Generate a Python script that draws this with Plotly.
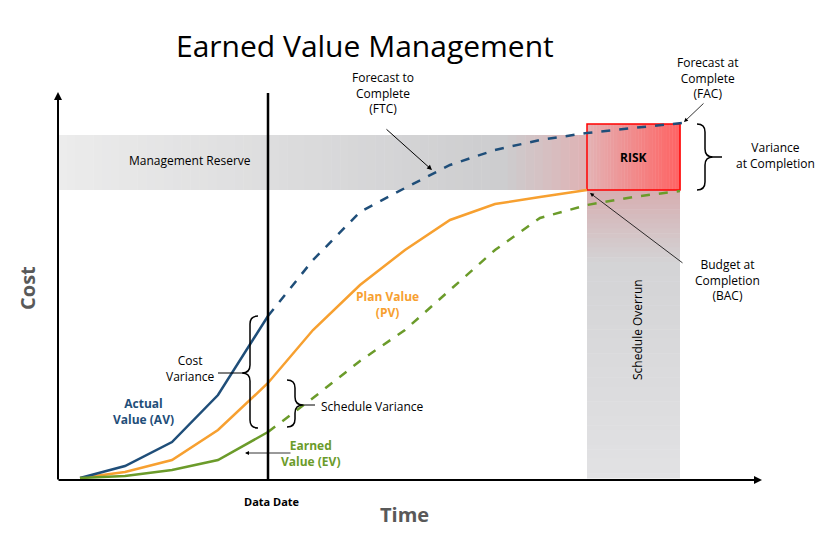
import plotly.graph_objects as go

# data (pixel-like units: x to the right, y downward)
t_actual = [80, 125, 172, 218, 268]
av_actual = [478, 466, 442, 395, 316]
t_ftc = [268, 313, 360, 405, 450, 495, 540, 587, 633, 682]
av_ftc = [316, 260, 212, 188, 165, 150, 140, 133, 128, 123]
t_pv = [80, 125, 172, 218, 268, 313, 360, 405, 450, 495, 540, 587]
pv = [478, 472, 460, 430, 383, 330, 285, 250, 220, 204, 197, 190]
t_ev = [80, 125, 172, 218, 268]
ev = [478, 476, 470, 460, 432]
t_evf = [268, 313, 360, 405, 450, 495, 540, 587, 633, 680]
evf = [432, 398, 361, 330, 290, 250, 218, 205, 197, 191]

BLUE, ORANGE, GREEN = "#1f4e79", "#f7a030", "#6b9b2a"
FONT = "Open Sans"

fig = go.Figure()
shapes = []

def lerp(c1, c2, f):
    return "rgb(%d,%d,%d)" % tuple(int(a + (b - a) * f) for a, b in zip(c1, c2))

N = 60
x0, x1 = 58, 587
for i in range(N):
    f = i / (N - 1)
    xa = x0 + (x1 - x0) * i / N
    xb = x0 + (x1 - x0) * (i + 1) / N + 0.5
    if f < 0.85:
        c = lerp((236, 236, 236), (205, 205, 207), f / 0.85)
    else:
        c = lerp((205, 205, 207), (222, 180, 182), (f - 0.85) / 0.15)
    shapes.append(dict(type="rect", x0=xa, x1=xb, y0=135, y1=190, fillcolor=c, line_width=0, layer="below"))
for i in range(N):
    f = i / (N - 1)
    ya = 190 + (478 - 190) * i / N
    yb = 190 + (478 - 190) * (i + 1) / N + 0.5
    if f < 0.25:
        c = lerp((215, 175, 178), (212, 212, 214), f / 0.25)
    else:
        c = lerp((212, 212, 214), (226, 226, 228), (f - 0.25) / 0.75)
    shapes.append(dict(type="rect", x0=587, x1=680, y0=ya, y1=yb, fillcolor=c, line_width=0, layer="below"))
for i in range(N):
    f = i / (N - 1)
    xa = 587 + 93 * i / N
    xb = 587 + 93 * (i + 1) / N + 0.5
    shapes.append(dict(type="rect", x0=xa, x1=xb, y0=124, y1=190,
                       fillcolor=lerp((228, 178, 180), (255, 100, 100), f), line_width=0, layer="below"))
shapes.append(dict(type="rect", x0=587, x1=680, y0=124, y1=190, line=dict(color="#ff0000", width=1.5), layer="below"))
shapes.append(dict(type="line", x0=268, x1=268, y0=93, y1=480, line=dict(color="black", width=2.5)))

def brace(xb, y1, y2, ym, d, w=8, r=8):
    p = (f"M {xb-d*w},{y1} Q {xb},{y1} {xb},{y1+r} L {xb},{ym-r} Q {xb},{ym} {xb+d*w},{ym} "
         f"Q {xb},{ym} {xb},{ym+r} L {xb},{y2-r} Q {xb},{y2} {xb-d*w},{y2}")
    return dict(type="path", path=p, line=dict(color="black", width=1.5))

shapes.append(brace(250, 316, 428, 373, -1))
shapes.append(brace(295, 380, 427, 405, 1))
shapes.append(brace(705, 124, 190, 157, 1))
shapes.append(dict(type="line", x0=218, x1=242, y0=373, y1=373, line=dict(color="black", width=1)))
shapes.append(dict(type="line", x0=303, x1=315, y0=405, y1=405, line=dict(color="black", width=1)))
shapes.append(dict(type="line", x0=713, x1=722, y0=157, y1=157, line=dict(color="black", width=1.5)))

fig.add_trace(go.Scatter(x=t_ftc, y=av_ftc, mode="lines", line=dict(color=BLUE, width=2.5, dash="dash")))
fig.add_trace(go.Scatter(x=t_evf, y=evf, mode="lines", line=dict(color=GREEN, width=2.5, dash="dash")))
fig.add_trace(go.Scatter(x=t_pv, y=pv, mode="lines", line=dict(color=ORANGE, width=2.5)))
fig.add_trace(go.Scatter(x=t_actual, y=av_actual, mode="lines", line=dict(color=BLUE, width=2.5)))
fig.add_trace(go.Scatter(x=t_ev, y=ev, mode="lines", line=dict(color=GREEN, width=2.5)))

ann = []
def arrow(x, y, ax, ay, w=1, size=1):
    ann.append(dict(x=x, y=y, ax=ax, ay=ay, xref="x", yref="y", axref="x", ayref="y", text="",
                    showarrow=True, arrowhead=2, arrowsize=size, arrowwidth=w, arrowcolor="black"))
arrow(58, 92, 58, 481, 2, 0.8)
arrow(762, 480, 57, 480, 2, 0.8)
arrow(432, 170, 385, 128)
arrow(684, 122, 705, 102, 0.8)
arrow(590, 193, 684, 264, 0.8)
arrow(245, 453, 292, 453, 0.8)

def txt(x, y, s, size=12, color="black", bold=False, angle=0, align="center"):
    if bold:
        s = "<b>" + s.replace("<br>", "</b><br><b>") + "</b>"
    ann.append(dict(x=x, y=y, xref="x", yref="y", text=s, showarrow=False, textangle=angle, align=align,
                    font=dict(family=FONT, size=size, color=color)))

txt(365, 45, "Earned Value Management", 30)
txt(27, 288, "Cost", 20, "#595959", True, -90)
txt(404, 514, "Time", 20, "#595959", True)
txt(272, 501, "Data Date", 11, bold=True)
txt(190, 160, "Management Reserve", 12)
txt(633, 157, "RISK", 12, bold=True)
txt(637, 330, "Schedule Overrun", 12, angle=-90)
txt(383, 93, "Forecast to<br>Complete<br>(FTC)", 12)
txt(708, 78, "Forecast at<br>Complete<br>(FAC)", 12)
txt(775, 155, "Variance<br>at Completion", 12)
txt(727, 280, "Budget at<br>Completion<br>(BAC)", 12)
txt(387, 304, "Plan Value<br>(PV)", 12, ORANGE, True)
txt(143, 411, "Actual<br>Value (AV)", 12, BLUE, True)
txt(190, 368, "Cost<br>Variance", 12)
txt(372, 406, "Schedule Variance", 12)
txt(310, 453, "Earned<br>Value (EV)", 12, GREEN, True)

fig.update_layout(
    width=833, height=544, margin=dict(l=0, r=0, t=0, b=0),
    paper_bgcolor="white", plot_bgcolor="white", showlegend=False,
    xaxis=dict(range=[8, 841], visible=False, fixedrange=True),
    yaxis=dict(range=[552, 8], visible=False, fixedrange=True),
    shapes=shapes, annotations=ann,
)
fig.write_html("out.html")
